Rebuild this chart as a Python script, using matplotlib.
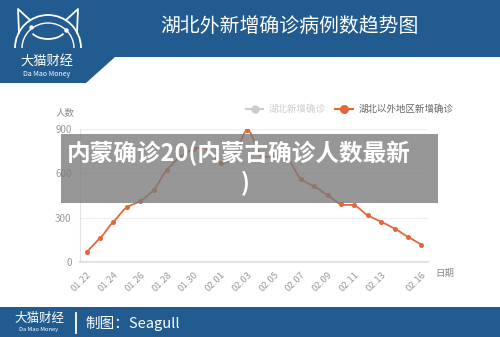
import numpy as np
import matplotlib
matplotlib.use("Agg")
import matplotlib.pyplot as plt
from matplotlib.patches import Polygon, Rectangle, Arc

plt.rcParams['font.family'] = ['Noto Sans CJK SC', 'DejaVu Sans']

# data
dates = ['01.22', '01.23', '01.24', '01.25', '01.26', '01.27', '01.28', '01.29',
         '01.30', '01.31', '02.01', '02.02', '02.03', '02.04', '02.05', '02.06',
         '02.07', '02.08', '02.09', '02.10', '02.11', '02.12', '02.13', '02.14',
         '02.15', '02.16']
outside_hubei = [70, 162, 273, 370, 411, 487, 625, 710, 765, 770, 672, 712, 893,
                 728, 710, 698, 562, 512, 452, 390, 383, 316, 272, 226, 170, 118]
shown_ticks = ['01.22', '01.24', '01.26', '01.28', '01.30', '02.01', '02.03',
               '02.05', '02.07', '02.09', '02.11', '02.13', '02.16']
y_ticks = [0, 300, 600, 900]

title = '湖北外新增确诊病例数趋势图'
legend_names = ['湖北新增确诊', '湖北以外地区新增确诊']
banner = '内蒙确诊20(内蒙古确诊人数最新'

BLUE = '#215b8f'
ORANGE = '#e2683a'
W, H = 500, 337


def smooth(y, n=16):
    # catmull-rom style cubic through the points
    y = np.asarray(y, dtype=float)
    m = np.gradient(y)
    xs, ys = [], []
    for i in range(len(y) - 1):
        t = np.linspace(0, 1, n, endpoint=False)
        h00 = 2 * t**3 - 3 * t**2 + 1
        h10 = t**3 - 2 * t**2 + t
        h01 = -2 * t**3 + 3 * t**2
        h11 = t**3 - t**2
        xs.append(i + t)
        ys.append(h00 * y[i] + h10 * m[i] * 0.8 + h01 * y[i + 1] + h11 * m[i + 1] * 0.8)
    xs.append([len(y) - 1])
    ys.append([y[-1]])
    return np.concatenate(xs), np.concatenate(ys)


fig = plt.figure(figsize=(W / 100, H / 100), dpi=100)

# background layer in pixel coordinates
bg = fig.add_axes([0, 0, 1, 1], zorder=0)
bg.set_xlim(0, W)
bg.set_ylim(H, 0)
bg.axis('off')
bg.add_patch(Polygon([[0, 0], [W, 0], [W, 57], [115, 57], [86, 83], [0, 83]],
                     closed=True, color=BLUE, lw=0))
bg.add_patch(Rectangle((0, 307), W, 30, color=BLUE, lw=0))
bg.text(289, 26, title, color='white', fontsize=14.3, ha='center', va='center')

# cat logo
bg.add_patch(Arc((48, 48), 66, 66, theta1=180, theta2=360, color='white', lw=1.3))
bg.add_patch(Arc((48, 48), 52, 50, theta1=180, theta2=360, color='white', lw=1.0))
bg.plot([19, 18, 30], [33, 9, 20], color='white', lw=1.3)
bg.plot([77, 78, 66], [33, 9, 20], color='white', lw=1.3)
bg.add_patch(Arc((48, 28), 36, 22, theta1=20, theta2=160, color='white', lw=1.3))
bg.plot([31, 66], [27, 30], 'o', color='white', ms=2.2)
bg.text(47, 62, '大猫财经', color='white', fontsize=9.5, ha='center', va='center')
bg.text(47, 74, 'Da Mao Money', color='white', fontsize=5, ha='center', va='center')

# footer
bg.text(39, 318, '大猫财经', color='white', fontsize=9, ha='center', va='center')
bg.text(39, 330, 'Da Mao Money', color='white', fontsize=4.2, ha='center', va='center')
bg.plot([76, 76], [313, 333], color='white', lw=1.3)
bg.text(85, 323, '制图：Seagull', color='white', fontsize=10.5, ha='left', va='center')

# legend (first series is switched off, so only greyed in legend)
bg.plot([246, 263], [109, 109], color='#cccccc', lw=1.5)
bg.plot([254.5], [109], 'o', color='#cccccc', ms=5)
bg.text(269, 109, legend_names[0], color='#cccccc', fontsize=6.8, va='center')
bg.plot([335, 353], [109, 109], color=ORANGE, lw=1.5)
bg.plot([344], [109], 'o', color=ORANGE, ms=5.5)
bg.text(359, 109, legend_names[1], color='#666666', fontsize=6.8, va='center')

bg.text(65, 113, '人数', color='#888888', fontsize=6.8, ha='center', va='center')
bg.text(445, 273, '日期', color='#888888', fontsize=6.8, ha='center', va='center')

# chart
ax = fig.add_axes([80 / W, 1 - 262 / H, 348 / W, 133 / H], zorder=1)
ax.patch.set_alpha(0)
x = np.arange(len(dates))
sx, sy = smooth(outside_hubei)
ax.plot(sx, sy, color=ORANGE, lw=1.3)
ax.plot(x, outside_hubei, 'o', color=ORANGE, ms=2.6)
ax.set_xlim(-0.5, len(dates) - 0.5)
ax.set_ylim(0, 900)
ax.set_yticks(y_ticks)
ax.set_yticklabels([str(v) for v in y_ticks], color='#999999', fontsize=7)
ax.set_xticks([dates.index(d) for d in shown_ticks])
ax.set_xticklabels(shown_ticks, rotation=45, ha='right', rotation_mode='anchor',
                   color='#999999', fontsize=6.8)
ax.tick_params(length=0, pad=6)
ax.grid(axis='y', color='#eeeeee', lw=0.8)
ax.set_axisbelow(True)
for s in ['top', 'right']:
    ax.spines[s].set_visible(False)
ax.spines['left'].set_color('#e4e4e4')
ax.spines['bottom'].set_color('#dddddd')
ax.spines['bottom'].set_linewidth(1.2)

# grey caption band on top
top = fig.add_axes([0, 0, 1, 1], zorder=2)
top.set_xlim(0, W)
top.set_ylim(H, 0)
top.axis('off')
top.patch.set_alpha(0)
top.add_patch(Rectangle((61, 134), 377, 69, color='#7a7a7a', alpha=0.78, lw=0))
top.text(239, 153, banner, color='white', fontsize=17, fontweight='bold',
         ha='center', va='center')
top.text(245, 183, ')', color='white', fontsize=17, fontweight='bold',
         ha='center', va='center')

fig.savefig('out.png', dpi=100)
